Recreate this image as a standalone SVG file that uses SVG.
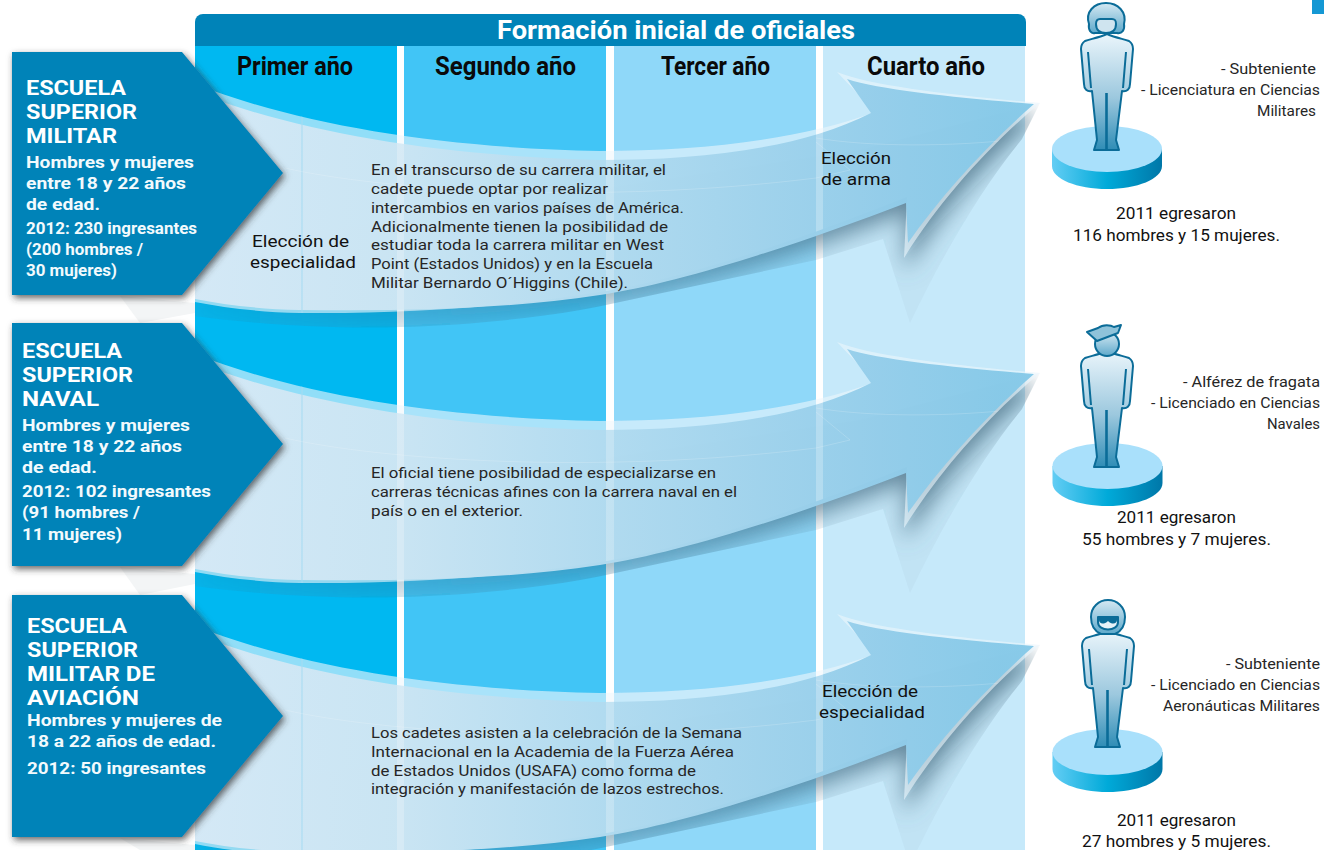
<svg xmlns="http://www.w3.org/2000/svg" xmlns:xlink="http://www.w3.org/1999/xlink" width="1324" height="850" viewBox="0 0 1324 850">
<style>
text{font-family:Roboto,"Noto Sans","Liberation Sans",sans-serif;}
.hd{font-size:26px;font-weight:700;fill:#fff}
.yr{font-size:26px;font-weight:700;fill:#0a0a0a}
.st{font-size:20.500px;font-weight:700;fill:#fff}
.ss{font-size:17px;font-weight:700;fill:#f2fafd}
.p{font-size:15.500px;fill:#262626}
.l{font-size:16.500px;fill:#111}
.r{font-size:15.500px;fill:#262626}
.e{font-size:16.500px;fill:#111}
.body{stroke:#0b6c98;stroke-width:2;stroke-linejoin:round}
.ln{stroke:#0b6c98;fill:none;stroke-linecap:butt}
.school{fill:#0083b8;filter:url(#sh)}
</style>
<defs>
<filter id="sh" x="-10%" y="-10%" width="125%" height="125%"><feDropShadow dx="2" dy="3" stdDeviation="3.500" flood-color="#333" flood-opacity=".75"/></filter>
<filter id="bl" x="-10%" y="-20%" width="120%" height="150%"><feGaussianBlur stdDeviation="11"/></filter>
<linearGradient id="af" gradientUnits="userSpaceOnUse" x1="195" y1="200" x2="1000" y2="200"><stop offset="0" stop-color="#d6e9f6"/><stop offset=".25" stop-color="#cbe5f3"/><stop offset=".55" stop-color="#add9ef"/><stop offset=".85" stop-color="#93cdea"/><stop offset="1" stop-color="#86c9e8"/></linearGradient>
<linearGradient id="sg" gradientUnits="userSpaceOnUse" x1="195" y1="0" x2="900" y2="0"><stop offset="0" stop-color="#1b6f96" stop-opacity=".1"/><stop offset=".55" stop-color="#2a6a8a" stop-opacity=".42"/><stop offset="1" stop-color="#4a6f85" stop-opacity=".8"/></linearGradient>
<linearGradient id="disc" x1="0" x2="1" y1="0" y2="0"><stop offset="0" stop-color="#63cdf4"/><stop offset=".5" stop-color="#00aad9"/><stop offset="1" stop-color="#0077a8"/></linearGradient>
<linearGradient id="bd" x1="0" x2="0" y1="0" y2="1"><stop offset="0" stop-color="#eaf5fb"/><stop offset=".55" stop-color="#9cc8de"/><stop offset="1" stop-color="#2f8db6"/></linearGradient>
<linearGradient id="hg" x1="0" x2="0" y1="0" y2="1"><stop offset="0" stop-color="#d5e9f3"/><stop offset="1" stop-color="#5ea9cb"/></linearGradient>
<clipPath id="shc"><path d="M195,304 L195,316 C260,325 340,329 400,327 C480,325 560,315 606,305 L816,260 L883,239 L910,323 C940,260 980,190 1022,139 L1040,103 L860,150 L195,250 Z"/></clipPath>
<path id="outer" d="M195,84 C300,125 440,148 600,151 C700,151 800,140 875,112 L837,72 C870,86 960,96 1040,103 C990,145 940,200 904,258 L907,197 C800,240 680,280 600,292 C500,308 400,314 300,313 C260,312 225,308 195,302 Z"/>
<path id="inner" d="M195,92 C300,133 440,156 600,160 C700,160 800,149 871,113 L847,79 C880,90 960,98 1034,104 C985,147 940,197 908,243 L906,203 C800,244 680,283 600,295 C500,310 400,311 300,310 C260,309 225,305 195,299 Z"/>
<clipPath id="ac"><use xlink:href="#outer"/></clipPath>
<g id="arrow">
<path d="M195,304 L195,316 C260,325 340,329 400,327 C480,325 560,315 606,305 L816,260 L883,239 L910,323 C940,260 980,190 1022,139 L904,258 L907,197 Z" fill="#6f8da0" opacity=".06"/>
<g clip-path="url(#shc)"><use xlink:href="#outer" transform="translate(0,14)" fill="url(#sg)" filter="url(#bl)"/></g>
<use xlink:href="#outer" fill="#eaf6fc" opacity=".62"/>
<use xlink:href="#inner" fill="url(#af)" opacity=".97"/>
<g clip-path="url(#ac)">
<rect x="397" y="60" width="7" height="270" fill="#fff" opacity=".22"/>
<rect x="606" y="60" width="8" height="270" fill="#fff" opacity=".22"/>
<rect x="816" y="60" width="7" height="270" fill="#fff" opacity=".25"/>
<path d="M302,100V320" stroke="#a5dbf2" stroke-width="1" fill="none"/>
<path d="M285,168C380,190 600,205 816,178L850,170L816,142M816,138C870,147 950,147 1020,139" stroke="#fff" stroke-width=".8" opacity=".22" fill="none"/>
</g>
</g>
<g id="ftr">
<path class="body" d="M1107,34C1098,38 1090,39 1085,41C1082,43 1081,45 1081,49L1084,84C1084,89 1087,92 1092,91L1097,140L1094,150H1119L1116,140L1122,91C1127,92 1130,89 1130,84L1133,49C1133,45 1132,43 1129,41C1124,39 1116,38 1107,34Z" fill="url(#bd)"/>
<path class="ln" stroke-width="2" d="M1088,52L1091,88M1126,52L1123,88"/>
<path class="ln" stroke-width="2.600" d="M1106.500,93V150"/>
</g>
<g id="disk">
<path d="M1052,149V166C1052,179 1077,189 1107,189C1137,189 1162,179 1162,166V149Z" fill="url(#disc)"/>
<ellipse cx="1107" cy="149" rx="55" ry="23" fill="#a9e0fb"/>
</g>
</defs>

<rect width="1324" height="850" fill="#fff"/>
<rect x="1312" width="12" height="14" fill="#1598d4"/>
<path d="M195,303L120,296L140,323L195,313Z" fill="#f3f5f6"/>
<path d="M195,574L120,567L140,595L195,584Z" fill="#f3f5f6"/>
<path d="M195,845L120,838L140,850L195,850Z" fill="#f3f5f6"/>

<g id="columns">
<rect x="195" y="46" width="202" height="804" fill="#00b8f1"/>
<rect x="404" y="46" width="202" height="804" fill="#41c5f6"/>
<rect x="614" y="46" width="202" height="804" fill="#8fd8f9"/>
<rect x="823" y="46" width="202" height="804" fill="#c6e9fa"/>
<path d="M195,46V22a8,8 0 0 1 8,-8H1018a8,8 0 0 1 8,8V46Z" fill="#0083b8"/>
<text class="hd" x="497" y="39" textLength="358" lengthAdjust="spacingAndGlyphs">Formación inicial de oficiales</text>
<text class="yr" x="237" y="75" textLength="116" lengthAdjust="spacingAndGlyphs">Primer año</text>
<text class="yr" x="435" y="75" textLength="141" lengthAdjust="spacingAndGlyphs">Segundo año</text>
<text class="yr" x="661" y="75" textLength="109" lengthAdjust="spacingAndGlyphs">Tercer año</text>
<text class="yr" x="867" y="75" textLength="118" lengthAdjust="spacingAndGlyphs">Cuarto año</text>
</g>

<g id="connectors">
<use xlink:href="#arrow"/>
<use xlink:href="#arrow" transform="translate(0,270)"/>
<use xlink:href="#arrow" transform="translate(0,542)"/>
</g>

<g id="school-militar">
<path class="school" d="M12,52H182L283,173L182,295H12Z"/>
<text class="st" x="26" y="95" textLength="100" lengthAdjust="spacingAndGlyphs">ESCUELA</text>
<text class="st" x="26" y="119" textLength="111" lengthAdjust="spacingAndGlyphs">SUPERIOR</text>
<text class="st" x="26" y="143" textLength="91" lengthAdjust="spacingAndGlyphs">MILITAR</text>
<text class="ss" x="26" y="168" textLength="168" lengthAdjust="spacingAndGlyphs">Hombres y mujeres</text>
<text class="ss" x="26" y="189" textLength="160" lengthAdjust="spacingAndGlyphs">entre 18 y 22 años</text>
<text class="ss" x="26" y="210" textLength="74" lengthAdjust="spacingAndGlyphs">de edad.</text>
<text class="ss" x="26" y="234" textLength="171" lengthAdjust="spacingAndGlyphs">2012: 230 ingresantes</text>
<text class="ss" x="26" y="255" textLength="117" lengthAdjust="spacingAndGlyphs">(200 hombres /</text>
<text class="ss" x="26" y="276" textLength="91" lengthAdjust="spacingAndGlyphs">30 mujeres)</text>
</g>
<g id="school-naval">
<path class="school" d="M12,323H182L283,444L182,566H12Z"/>
<text class="st" x="22" y="358" textLength="100" lengthAdjust="spacingAndGlyphs">ESCUELA</text>
<text class="st" x="22" y="382" textLength="111" lengthAdjust="spacingAndGlyphs">SUPERIOR</text>
<text class="st" x="22" y="406" textLength="77" lengthAdjust="spacingAndGlyphs">NAVAL</text>
<text class="ss" x="22" y="431" textLength="168" lengthAdjust="spacingAndGlyphs">Hombres y mujeres</text>
<text class="ss" x="22" y="452" textLength="160" lengthAdjust="spacingAndGlyphs">entre 18 y 22 años</text>
<text class="ss" x="22" y="473" textLength="75" lengthAdjust="spacingAndGlyphs">de edad.</text>
<text class="ss" x="22" y="497" textLength="189" lengthAdjust="spacingAndGlyphs">2012: 102 ingresantes</text>
<text class="ss" x="22" y="518" textLength="118" lengthAdjust="spacingAndGlyphs">(91 hombres /</text>
<text class="ss" x="22" y="540" textLength="100" lengthAdjust="spacingAndGlyphs">11 mujeres)</text>
</g>
<g id="school-aviacion">
<path class="school" d="M12,595H182L283,716L182,837H12Z"/>
<text class="st" x="27" y="633" textLength="100" lengthAdjust="spacingAndGlyphs">ESCUELA</text>
<text class="st" x="27" y="657" textLength="111" lengthAdjust="spacingAndGlyphs">SUPERIOR</text>
<text class="st" x="27" y="681" textLength="128" lengthAdjust="spacingAndGlyphs">MILITAR DE</text>
<text class="st" x="27" y="705" textLength="112" lengthAdjust="spacingAndGlyphs">AVIACIÓN</text>
<text class="ss" x="27" y="726" textLength="195" lengthAdjust="spacingAndGlyphs">Hombres y mujeres de</text>
<text class="ss" x="27" y="747" textLength="189" lengthAdjust="spacingAndGlyphs">18 a 22 años de edad.</text>
<text class="ss" x="27" y="774" textLength="179" lengthAdjust="spacingAndGlyphs">2012: 50 ingresantes</text>
</g>

<g id="label-1">
<text class="l" x="252" y="247" textLength="97" lengthAdjust="spacingAndGlyphs">Elección de</text>
<text class="l" x="250" y="268" textLength="106" lengthAdjust="spacingAndGlyphs">especialidad</text>
<text class="l" x="821" y="164" textLength="70" lengthAdjust="spacingAndGlyphs">Elección</text>
<text class="l" x="821" y="185" textLength="70" lengthAdjust="spacingAndGlyphs">de arma</text>
<text class="l" x="822" y="697" textLength="96" lengthAdjust="spacingAndGlyphs">Elección de</text>
<text class="l" x="819" y="718" textLength="106" lengthAdjust="spacingAndGlyphs">especialidad</text>
</g>
<g id="text-militar">
<text class="p" x="371" y="175" textLength="295" lengthAdjust="spacingAndGlyphs">En el transcurso de su carrera militar, el</text>
<text class="p" x="371" y="194" textLength="237" lengthAdjust="spacingAndGlyphs">cadete puede optar por realizar</text>
<text class="p" x="371" y="213" textLength="313" lengthAdjust="spacingAndGlyphs">intercambios en varios países de América.</text>
<text class="p" x="371" y="231.500" textLength="297" lengthAdjust="spacingAndGlyphs">Adicionalmente tienen la posibilidad de</text>
<text class="p" x="371" y="250" textLength="293" lengthAdjust="spacingAndGlyphs">estudiar toda la carrera militar en West</text>
<text class="p" x="371" y="269" textLength="282" lengthAdjust="spacingAndGlyphs">Point (Estados Unidos) y en la Escuela</text>
<text class="p" x="371" y="287.500" textLength="257" lengthAdjust="spacingAndGlyphs">Militar Bernardo O´Higgins (Chile).</text>
</g>
<g id="text-naval">
<text class="p" x="371" y="478" textLength="345" lengthAdjust="spacingAndGlyphs">El oficial tiene posibilidad de especializarse en</text>
<text class="p" x="371" y="497" textLength="366" lengthAdjust="spacingAndGlyphs">carreras técnicas afines con la carrera naval en el</text>
<text class="p" x="371" y="515.500" textLength="152" lengthAdjust="spacingAndGlyphs">país o en el exterior.</text>
</g>
<g id="text-aviacion">
<text class="p" x="371" y="738" textLength="371" lengthAdjust="spacingAndGlyphs">Los cadetes asisten a la celebración de la Semana</text>
<text class="p" x="371" y="757" textLength="363" lengthAdjust="spacingAndGlyphs">Internacional en la Academia de la Fuerza Aérea</text>
<text class="p" x="371" y="775.500" textLength="325" lengthAdjust="spacingAndGlyphs">de Estados Unidos (USAFA) como forma de</text>
<text class="p" x="371" y="794" textLength="353" lengthAdjust="spacingAndGlyphs">integración y manifestación de lazos estrechos.</text>
</g>

<g id="figure-1">
<use xlink:href="#disk"/>
<use xlink:href="#ftr"/>
<path class="body" fill="url(#hg)" d="M1089,24C1085,12 1094,3 1106,3C1118,3 1127,12 1124,24C1125,30 1122,34 1117,33H1095C1091,34 1088,30 1089,24Z"/>
<path class="body" fill="#cfe4ef" stroke-width="1.500" d="M1096,24C1096,20 1098,19 1100,19H1112C1115,19 1116,20 1116,24C1116,29 1114,33 1106,33C1098,33 1096,29 1096,24Z"/>
<text class="r" x="1221" y="74" textLength="95" lengthAdjust="spacingAndGlyphs">- Subteniente</text>
<text class="r" x="1141" y="95" textLength="179" lengthAdjust="spacingAndGlyphs">- Licenciatura en Ciencias</text>
<text class="r" x="1257" y="116" textLength="59" lengthAdjust="spacingAndGlyphs">Militares</text>
<text class="e" x="1116" y="219" textLength="120" lengthAdjust="spacingAndGlyphs">2011 egresaron</text>
<text class="e" x="1073" y="241" textLength="207" lengthAdjust="spacingAndGlyphs">116 hombres y 15 mujeres.</text>
</g>
<g id="figure-2">
<use xlink:href="#disk" transform="translate(0.500,317)"/>
<use xlink:href="#ftr" transform="translate(0,317)"/>
<circle class="body" cx="1107" cy="344" r="12" fill="url(#hg)"/>
<path class="body" fill="#8fc3da" d="M1087,332L1098,328C1103,324 1111,325 1114,327L1121,325L1118,333L1097,341Z"/>
<text class="r" x="1183" y="387" textLength="137" lengthAdjust="spacingAndGlyphs">- Alférez de fragata</text>
<text class="r" x="1151" y="408" textLength="169" lengthAdjust="spacingAndGlyphs">- Licenciado en Ciencias</text>
<text class="r" x="1267" y="429" textLength="53" lengthAdjust="spacingAndGlyphs">Navales</text>
<text class="e" x="1117" y="523" textLength="119" lengthAdjust="spacingAndGlyphs">2011 egresaron</text>
<text class="e" x="1082" y="545" textLength="189" lengthAdjust="spacingAndGlyphs">55 hombres y 7 mujeres.</text>
</g>
<g id="figure-3">
<use xlink:href="#disk" transform="translate(0.500,603)"/>
<use xlink:href="#ftr" transform="translate(1,597)"/>
<path class="body" fill="url(#hg)" d="M1101,634C1094,631 1091,625 1091,617C1091,607 1099,600 1108,600C1117,600 1125,607 1125,617C1125,625 1122,631 1115,634Z"/>
<path class="body" fill="#e6f2f8" stroke-width="1.500" d="M1098,622C1098,632 1118,632 1118,622V617H1098Z"/>
<path fill="#0b6c98" d="M1099,617H1117V620C1117,624 1112,625 1108,621C1104,625 1099,624 1099,620Z"/>
<text class="r" x="1226" y="669" textLength="94" lengthAdjust="spacingAndGlyphs">- Subteniente</text>
<text class="r" x="1151" y="690" textLength="169" lengthAdjust="spacingAndGlyphs">- Licenciado en Ciencias</text>
<text class="r" x="1163" y="711" textLength="157" lengthAdjust="spacingAndGlyphs">Aeronáuticas Militares</text>
<text class="e" x="1117" y="826" textLength="119" lengthAdjust="spacingAndGlyphs">2011 egresaron</text>
<text class="e" x="1082" y="847" textLength="189" lengthAdjust="spacingAndGlyphs">27 hombres y 5 mujeres.</text>
</g>
</svg>
